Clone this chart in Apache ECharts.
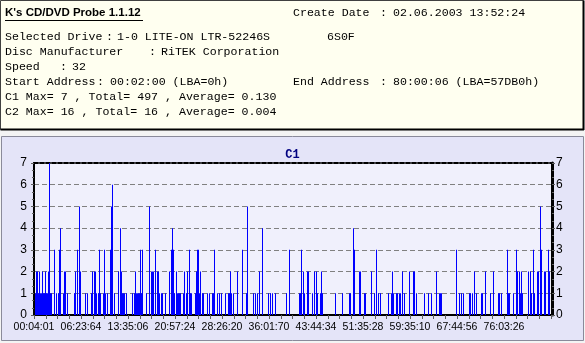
<!DOCTYPE html>
<html>
<head>
<meta charset="utf-8">
<script src="https://cdn.jsdelivr.net/npm/echarts@6/dist/echarts.min.js"></script>
<style>
  html, body { margin: 0; padding: 0; background: #f4f4f4; }
  #chart { width: 585px; height: 343px; }
</style>
</head>
<body>
<div id="chart"></div>
<script>
// Scan position labels shown under the x axis (one every 47 samples)
const tickLabels = ['00:04:01', '06:23:64', '13:35:06', '20:57:24', '28:26:20', '36:01:70',
                    '43:44:34', '51:35:28', '59:35:10', '67:44:56', '76:03:26'];
const samplesPerLabel = 47;

// C1 error counts per sample, one row per label interval
const c1Values = [
  0,1,2,2,1,2,1,1,2,1, 1,2,1,1,2,7,1,1,0,0, 3,0,1,0,1,3,4,0,0,1, 2,2,0,1,0,0,0,0,0,0, 1,2,0,3,0,5,2,
  0,0,0,0,1,0,1,0,0,0, 1,2,0,2,2,1,0,1,3,1, 0,0,1,3,1,0,1,0,0,3, 5,6,0,1,0,0,0,2,0,4, 2,1,1,1,0,1,0,
  0,0,0,0,1,0,1,2,1,1, 1,1,3,1,3,0,0,0,1,0, 0,5,0,2,2,2,0,3,0,2, 2,1,0,1,1,0,0,1,0,0, 0,2,0,3,4,3,1,
  0,2,1,1,1,1,0,0,1,2, 0,1,2,0,3,1,1,0,0,0, 1,2,3,3,1,2,0,1,1,0, 0,0,1,0,1,0,0,1,1,3, 0,0,1,0,1,0,1,
  0,0,0,1,0,0,1,1,2,1, 0,1,0,0,0,2,0,0,0,0, 3,0,0,0,1,5,0,0,0,0, 0,1,0,1,0,1,0,2,0,0, 4,0,0,0,0,0,1,
  0,1,0,1,0,0,1,0,0,0, 0,0,0,0,0,0,0,1,0,0, 3,0,0,0,0,0,0,0,0,0, 1,1,3,0,2,1,0,0,2,2, 0,0,0,1,0,2,0,
  2,1,0,0,1,2,1,0,0,0, 0,0,0,0,0,0,0,0,0,1, 0,0,0,0,0,0,1,0,0,0, 0,0,0,1,1,0,0,4,3,0, 0,0,0,2,2,0,0,
  0,1,1,0,0,0,0,0,2,0, 0,1,0,3,0,1,0,1,0,0, 0,0,0,0,0,1,0,0,1,2, 1,0,0,1,1,0,1,1,0,2, 0,1,0,0,0,0,2,
  0,0,0,2,2,0,1,0,0,0, 0,0,0,0,1,0,0,0,1,0, 0,1,0,0,0,0,2,0,0,1, 1,1,0,0,0,0,0,0,0,0, 0,0,0,0,0,0,3,
  0,0,1,0,1,0,1,0,0,0, 0,0,1,1,0,1,0,2,0,1, 0,0,0,0,1,1,0,0,2,0, 0,0,0,1,0,0,2,0,0,0, 0,1,1,0,1,0,0,
  0,0,0,3,1,1,0,0,0,1, 0,0,3,2,0,2,1,2,1,0, 0,0,0,0,2,0,2,1,0,3, 1,0,0,2,2,0,5,3,0,0, 2,2,0,0,3,2,0
];
const yMax = 7;

// Disc / drive information block
const appTitle = "K's CD/DVD Probe 1.1.12";
const infoRows = [
  { label: 'Selected Drive', value: '1-0 LITE-ON LTR-52246S' },
  { label: 'Disc Manufacturer', value: 'RiTEK Corporation' },
  { label: 'Speed', value: '32' },
  { label: 'Start Address', value: '00:02:00 (LBA=0h)' }
];
const firmware = '6S0F';
const createDate = '02.06.2003 13:52:24';
const endAddress = '80:00:06 (LBA=57DB0h)';
const c1Summary = 'C1 Max= 7 , Total= 497 , Average= 0.130';
const c2Summary = 'C2 Max= 16 , Total= 16 , Average= 0.004';

const monoFont = '11.6px "Liberation Mono", "DejaVu Sans Mono", monospace';
const ink = '#000000';

function txt(x, y, text, font) {
  return { type: 'text', x: x, y: y, z: 5,
           style: { text: text, font: font || monoFont, fill: ink, verticalAlign: 'middle' } };
}

// layout of the info block
const rowY = [37, 52, 67, 82];
const labelX = 5;
const colonX = [106, 149, 60, 97];
const valueX = [117, 161, 72, 110];

const graphics = [
  // info panel
  { type: 'rect', z: -10, shape: { x: 0.5, y: 0.5, width: 583, height: 129 },
    style: { fill: '#fffff0', stroke: '#404040', lineWidth: 1 } },
  { type: 'line', z: -9, shape: { x1: 583.5, y1: 0.5, x2: 583.5, y2: 130 },
    style: { stroke: '#000', lineWidth: 2 } },
  { type: 'line', z: -9, shape: { x1: 0.5, y1: 129.5, x2: 584, y2: 129.5 },
    style: { stroke: '#000', lineWidth: 2 } },
  // chart panel
  { type: 'rect', z: -10, shape: { x: 1.5, y: 136.5, width: 582, height: 204 },
    style: { fill: '#e4e4f8', stroke: '#8a8a9a', lineWidth: 1 } },
  // title of the tool, underlined
  txt(5, 13, appTitle, 'bold 11.5px "Liberation Sans", Arial, sans-serif'),
  { type: 'line', z: 5, shape: { x1: 5, y1: 20.5, x2: 143, y2: 20.5 },
    style: { stroke: ink, lineWidth: 1 } },
  txt(293, 13, 'Create Date'), txt(380, 13, ':'), txt(393, 13, createDate),
  txt(327, 37, firmware),
  txt(293, 82, 'End Address'), txt(380, 82, ':'), txt(393, 82, endAddress),
  txt(5, 97, c1Summary),
  txt(5, 112, c2Summary)
];
infoRows.forEach(function (r, i) {
  graphics.push(txt(labelX, rowY[i], r.label));
  graphics.push(txt(colonX[i], rowY[i], ':'));
  graphics.push(txt(valueX[i], rowY[i], r.value));
});

const totalSamples = c1Values.length;
const barData = c1Values.map(function (v, i) { return [i + 0.5, v]; });

const chart = echarts.init(document.getElementById('chart'), null, { renderer: 'canvas' });
chart.setOption({
  animation: false,
  backgroundColor: '#f4f4f4',
  graphic: graphics,
  title: {
    text: 'C1', left: 'center', top: 144,
    textStyle: { fontFamily: '"Liberation Mono", monospace', fontWeight: 'bold', fontSize: 12, color: '#000080' }
  },
  grid: {
    left: 34, right: 34, top: 163, bottom: 28,
    show: true, backgroundColor: '#f0f0fc', borderWidth: 0
  },
  xAxis: [{
    type: 'value', min: 0, max: totalSamples, interval: samplesPerLabel,
    axisLine: { show: true, onZero: false, lineStyle: { color: '#000', width: 2 } },
    axisTick: { show: true, length: 4, lineStyle: { color: '#606060' } },
    minorTick: { show: true, splitNumber: 4, length: 4, lineStyle: { color: '#606060' } },
    axisLabel: {
      showMaxLabel: false, margin: 7,
      fontFamily: '"Liberation Sans", Arial, sans-serif', fontSize: 10.5, color: '#000',
      formatter: function (v) {
        const k = Math.round(v / samplesPerLabel);
        return k < tickLabels.length ? tickLabels[k] : '';
      }
    },
    splitLine: { show: false }
  }, {
    type: 'value', position: 'top', min: 0, max: totalSamples,
    axisLine: { show: true, onZero: false, lineStyle: { color: '#000', width: 2, type: [4, 2] } },
    axisTick: { show: false }, axisLabel: { show: false }, splitLine: { show: false }
  }],
  yAxis: [{
    type: 'value', min: 0, max: yMax, interval: 1, position: 'left',
    axisLine: { show: true, onZero: false, lineStyle: { color: '#000', width: 2 } },
    axisTick: { show: true, length: 3, lineStyle: { color: '#606060' } },
    minorTick: { show: true, splitNumber: 3, length: 2, lineStyle: { color: '#606060' } },
    axisLabel: { margin: 7, fontFamily: '"Liberation Sans", Arial, sans-serif', fontSize: 12, color: '#000' },
    splitLine: { show: true, showMinLine: false, showMaxLine: false,
                 lineStyle: { color: '#808080', width: 1, type: [5, 3] } }
  }, {
    type: 'value', min: 0, max: yMax, interval: 1, position: 'right', offset: 1,
    axisLine: { show: true, onZero: false, lineStyle: { color: '#000', width: 3 } },
    axisTick: { show: true, length: 3, lineStyle: { color: '#606060' } },
    minorTick: { show: true, splitNumber: 3, length: 2, lineStyle: { color: '#606060' } },
    axisLabel: { margin: 4, fontFamily: '"Liberation Sans", Arial, sans-serif', fontSize: 12, color: '#000' },
    splitLine: { show: false }
  }],
  series: [{
    name: 'C1', type: 'bar', xAxisIndex: 0, yAxisIndex: 0,
    data: barData, barWidth: 1,
    itemStyle: { color: '#0000ff' },
    emphasis: { disabled: true }
  }]
});
</script>
</body>
</html>
